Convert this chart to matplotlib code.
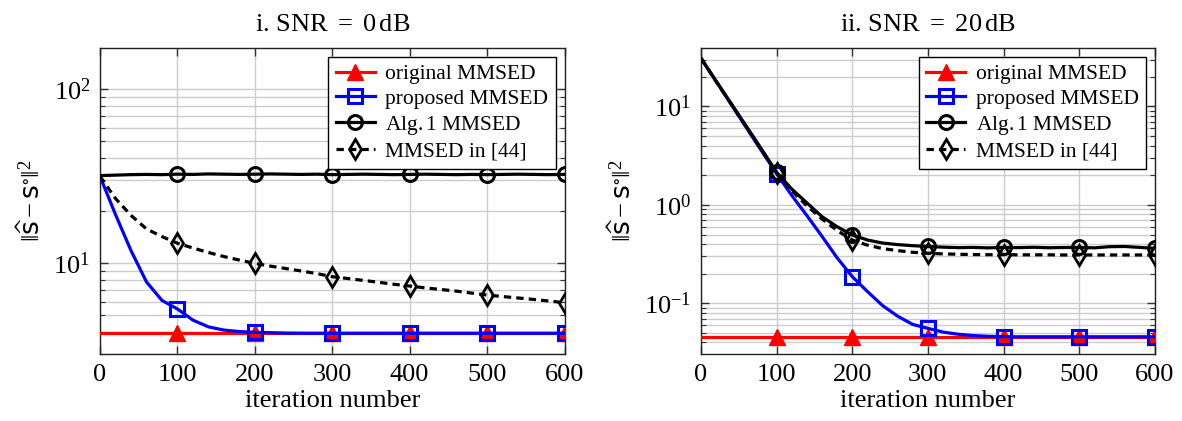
import numpy as np
import matplotlib
matplotlib.use("Agg")
from matplotlib import pyplot as plt
from matplotlib.ticker import LogLocator, NullFormatter, MultipleLocator

# iteration axis (same for both panels)
iters = list(range(0, 601, 20))

# --- panel i: SNR = 0 dB ---
orig_0db = [3.95] * 31
prop_0db = [31.5, 19.0, 11.8, 7.8, 6.1, 5.45, 4.7, 4.3, 4.12, 4.04, 4.0, 3.98, 3.96,
            3.95, 3.95, 3.95, 3.95, 3.95, 3.95, 3.95, 3.95, 3.95, 3.95, 3.95, 3.95,
            3.95, 3.95, 3.95, 3.95, 3.95, 3.95]
alg1_0db = [31.8, 32.0, 32.2, 32.3, 32.2, 32.4, 32.3, 32.5, 32.4, 32.3, 32.4, 32.5,
            32.4, 32.3, 32.4, 32.2, 32.3, 32.4, 32.3, 32.2, 32.3, 32.4, 32.3, 32.2,
            32.3, 32.2, 32.3, 32.4, 32.3, 32.2, 32.3]
ref44_0db = [31.5, 23.5, 18.8, 15.7, 14.2, 13.0, 12.2, 11.5, 10.9, 10.4, 9.95, 9.6,
             9.3, 9.0, 8.7, 8.35, 8.15, 7.95, 7.75, 7.55, 7.38, 7.2, 7.05, 6.9,
             6.72, 6.55, 6.42, 6.3, 6.18, 6.05, 5.92]

# --- panel ii: SNR = 20 dB ---
orig_20db = [0.0457] * 31
prop_20db = [31.0, 18.0, 10.5, 6.1, 3.55, 2.08, 1.25, 0.78, 0.48, 0.29, 0.187,
             0.132, 0.095, 0.074, 0.061, 0.0557, 0.051, 0.0485, 0.047, 0.0462,
             0.0458, 0.0457, 0.0457, 0.0457, 0.0457, 0.0457, 0.0457, 0.0457,
             0.0457, 0.0457, 0.0457]
alg1_20db = [31.0, 18.2, 10.7, 6.3, 3.7, 2.15, 1.45, 1.05, 0.76, 0.60, 0.495, 0.44,
             0.41, 0.395, 0.385, 0.378, 0.372, 0.368, 0.37, 0.366, 0.37, 0.368,
             0.371, 0.367, 0.369, 0.37, 0.366, 0.376, 0.378, 0.37, 0.362]
ref44_20db = [31.0, 18.0, 10.6, 6.2, 3.65, 2.1, 1.4, 0.98, 0.72, 0.55, 0.44, 0.39,
              0.36, 0.343, 0.33, 0.322, 0.318, 0.315, 0.313, 0.312, 0.312, 0.311,
              0.311, 0.311, 0.31, 0.31, 0.31, 0.31, 0.31, 0.31, 0.31]

labels = ['original MMSED', 'proposed MMSED', 'Alg.$\\,$1 MMSED', 'MMSED in [44]']
titles = ['i. SNR $=$ 0$\\,$dB', 'ii. SNR $=$ 20$\\,$dB']
ylims = [(3.0, 172.0), (0.0305, 39.3)]

plt.rcParams['font.family'] = ['Liberation Serif', 'DejaVu Serif']
plt.rcParams['mathtext.fontset'] = 'custom'
plt.rcParams['mathtext.rm'] = 'Liberation Serif'
plt.rcParams['mathtext.it'] = 'Liberation Serif:italic'
plt.rcParams['mathtext.sf'] = 'DejaVu Sans'
plt.rcParams['mathtext.fallback'] = 'stix'

fig = plt.figure(figsize=(11.82, 4.21), dpi=100)
ax_l = fig.add_axes([0.0846, 0.159, 0.393, 0.727])
ax_r = fig.add_axes([0.593, 0.159, 0.384, 0.727])

panels = [(ax_l, orig_0db, prop_0db, alg1_0db, ref44_0db),
          (ax_r, orig_20db, prop_20db, alg1_20db, ref44_20db)]

mk = slice(5, None, 5)
for i, (ax, orig, prop, alg1, ref44) in enumerate(panels):
    ax.plot(iters, orig, color='#ff0000', lw=2.3, marker='^', ms=11,
            markevery=mk, label=labels[0], zorder=3)
    ax.plot(iters, prop, color='#0000ff', lw=2.3, marker='s', ms=10, mew=2.2,
            mfc='none', markevery=mk, label=labels[1], zorder=4)
    ax.plot(iters, alg1, color='black', lw=2.3, marker='o', ms=10, mew=2.2,
            mfc='none', markevery=mk, label=labels[2], zorder=5)
    ax.plot(iters, ref44, color='black', lw=2.3, ls=(0, (2.3, 1.6)), marker='d',
            ms=10, mew=2.0, mfc='none', markevery=mk, label=labels[3], zorder=5)

    ax.set_yscale('log')
    ax.set_xlim(0, 600)
    ax.set_ylim(*ylims[i])
    ax.xaxis.set_major_locator(MultipleLocator(100))
    ax.yaxis.set_major_locator(LogLocator(base=10))
    ax.yaxis.set_minor_locator(LogLocator(base=10, subs=np.arange(2, 10)))
    ax.yaxis.set_minor_formatter(NullFormatter())
    ax.grid(which='major', color='#cccccc', lw=1.0, zorder=0)
    ax.grid(which='minor', axis='y', color='#cccccc', lw=1.0, zorder=0)
    ax.set_axisbelow(True)
    ax.tick_params(which='both', direction='in', top=True, right=True,
                   labelsize=19, color='#333333')
    ax.tick_params(which='major', length=6, width=1, pad=7)
    ax.tick_params(which='minor', length=3.5, width=0.8)
    for sp in ax.spines.values():
        sp.set_color('#222222')
        sp.set_linewidth(1.0)

    ax.set_title(titles[i], fontsize=19, pad=12)
    ax.set_xlabel('iteration number', fontsize=19, labelpad=3)
    ax.set_ylabel('$\\|\\widehat{\\mathsf{s}} - \\mathsf{s}^{\\circ}\\|^2$',
                  fontsize=19, labelpad=6)
    leg = ax.legend(loc='upper right', fontsize=15.5, frameon=True,
                    fancybox=False, framealpha=1, edgecolor='black',
                    handlelength=1.8, handletextpad=0.5, labelspacing=0.22,
                    borderpad=0.35, borderaxespad=0.4)
    leg.get_frame().set_linewidth(1.0)

fig.savefig('out.png', dpi=100)
